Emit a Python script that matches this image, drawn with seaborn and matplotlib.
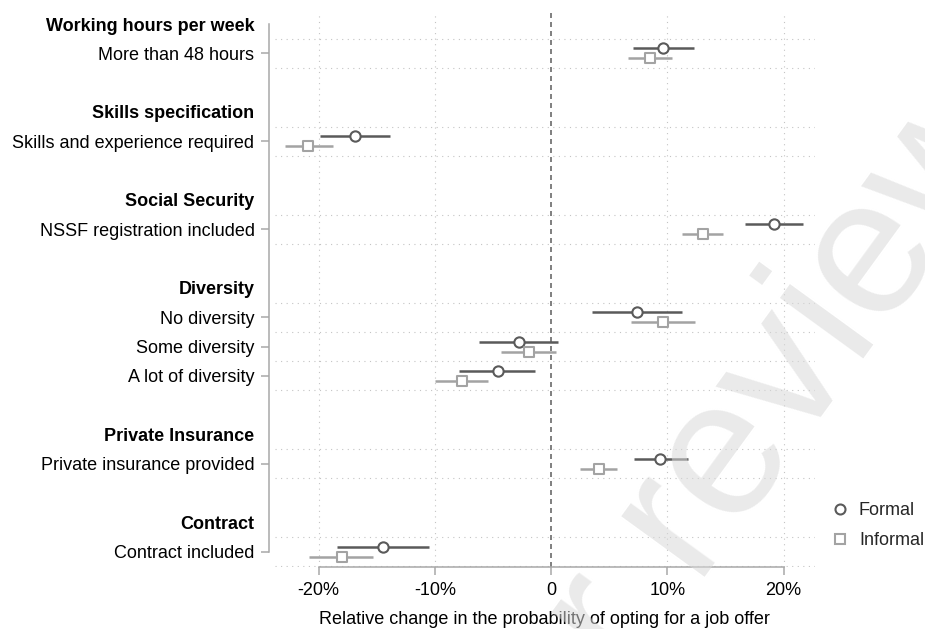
import matplotlib
matplotlib.use("Agg")
import matplotlib.pyplot as plt
import pandas as pd
import seaborn as sns
from matplotlib.lines import Line2D

# ---- data -------------------------------------------------------------
sections = ["Working hours per week", "Skills specification", "Social Security",
            "Diversity", "Private Insurance", "Contract"]
levels = [["More than 48 hours"],
          ["Skills and experience required"],
          ["NSSF registration included"],
          ["No diversity", "Some diversity", "A lot of diversity"],
          ["Private insurance provided"],
          ["Contract included"]]

formal_est = [9.6, -16.9, 19.2, 7.4, -2.8, -4.6, 9.4, -14.5]
formal_lo = [7.0, -19.9, 16.7, 3.5, -6.2, -7.9, 7.1, -18.4]
formal_hi = [12.3, -13.9, 21.7, 11.3, 0.6, -1.4, 11.8, -10.5]

informal_est = [8.5, -20.9, 13.1, 9.6, -1.9, -7.7, 4.1, -18.0]
informal_lo = [6.6, -22.9, 11.3, 6.9, -4.3, -10.0, 2.5, -20.8]
informal_hi = [10.4, -18.8, 14.8, 12.4, 0.4, -5.4, 5.7, -15.3]

series = ["Formal", "Informal"]
xticks = [-20, -10, 0, 10, 20]
xtick_labels = ["-20%", "-10%", "0", "10%", "20%"]
xlabel = "Relative change in the probability of opting for a job offer"

# ---- layout of rows: header, levels, blank spacer ---------------------
header_pos, level_pos, level_names = [], [], []
slot = 0
for sec, grp in zip(sections, levels):
    header_pos.append(slot)
    slot += 1
    for name in grp:
        level_pos.append(slot)
        level_names.append(name)
        slot += 1
    slot += 1

offsets = {"Formal": -0.17, "Informal": 0.17}
colors = {"Formal": "#5a5a5a", "Informal": "#a3a3a3"}
markers = {"Formal": "o", "Informal": "s"}

rows = []
for s, est, lo, hi in [("Formal", formal_est, formal_lo, formal_hi),
                       ("Informal", informal_est, informal_lo, informal_hi)]:
    for name, p, e, l, h in zip(level_names, level_pos, est, lo, hi):
        rows.append({"level": name, "sector": s, "est": e, "lo": l, "hi": h,
                     "y": p + offsets[s]})
df = pd.DataFrame(rows)

# ---- style ------------------------------------------------------------
sns.set_theme(style="white")
plt.rcParams["font.family"] = ["Liberation Sans", "DejaVu Sans"]
plt.rcParams["font.size"] = 13

W, H = 925, 629
fig = plt.figure(figsize=(W / 100, H / 100), dpi=100)
left, right, top, bottom = 274.5, 815, 12, 566.7
ax = fig.add_axes([left / W, 1 - bottom / H, (right - left) / W, (bottom - top) / H])

grid_c = "#c4c4c4"
axis_c = "#a8a8a8"

# horizontal dotted separators around each level row
bounds = sorted({p + d for p in level_pos for d in (-0.5, 0.5)})
for b in bounds:
    ax.axhline(b, color=grid_c, lw=0.8, ls=(0, (1, 4)), zorder=0)
for v in [-20, -10, 10, 20]:
    ax.axvline(v, color=grid_c, lw=0.8, ls=(0, (1, 4)), zorder=0)
ax.axvline(0, color="#6a6a6a", lw=1.2, ls=(0, (3, 2.4)), zorder=1)

# confidence intervals and point estimates
for s in series:
    sub = df[df["sector"] == s]
    ax.hlines(sub["y"], sub["lo"], sub["hi"], color=colors[s], lw=1.8, zorder=2)
    sns.scatterplot(data=sub, x="est", y="y", marker=markers[s], s=55,
                    color=colors[s], linewidth=1.5, ax=ax, zorder=3, legend=False)
    coll = ax.collections[-1]
    coll.set_facecolor("white")
    coll.set_edgecolor(colors[s])
    coll.set_linewidth(1.5)

ax.set_xlim(-23.8, 22.7)
ax.set_ylim(18.51, -0.41)

# spines first: repositioning a spine rebuilds the axis ticks
for side in ["top", "right"]:
    ax.spines[side].set_visible(False)
ax.spines["left"].set_position(("outward", 4.3))
ax.spines["left"].set_bounds(0, 18)
ax.spines["bottom"].set_bounds(-20, 20)
for side in ["left", "bottom"]:
    ax.spines[side].set_color(axis_c)
    ax.spines[side].set_linewidth(1.1)

ax.set_xticks(xticks)
ax.set_xticklabels(xtick_labels)
ax.set_xlabel(xlabel, fontsize=13, labelpad=9, color="black")
ax.set_ylabel("")

# y axis: bold section headers (no tick) and level labels
ypos = header_pos + level_pos
ylabels = sections + level_names
order = sorted(range(len(ypos)), key=lambda i: ypos[i])
ax.set_yticks([ypos[i] for i in order])
ax.set_yticklabels([ylabels[i] for i in order])

ax.tick_params(axis="both", which="both", length=5.8, width=1.1, color=axis_c,
               labelsize=13, labelcolor="black", direction="out")
ax.tick_params(axis="y", pad=4.3, left=True)
ax.tick_params(axis="x", pad=5, bottom=True)

for i, tick in enumerate(ax.yaxis.get_major_ticks()):
    if ypos[order[i]] in header_pos:
        tick.tick1line.set_visible(False)
        tick.label1.set_fontweight("bold")

# legend outside the plot on the right
handles = [Line2D([], [], ls="none", marker=markers[s], mfc="white", mec=colors[s],
                  ms=7.2, mew=1.5) for s in series]
fig.legend(handles, series, loc="upper left", bbox_to_anchor=(831 / W, 1 - 502 / H),
           frameon=False, fontsize=13, handlelength=1.0, handletextpad=0.55,
           labelspacing=0.72, borderpad=0, borderaxespad=0)

# diagonal watermark
fig.text(494 / W, 1 - 867 / H, "For review", fontsize=140, rotation=54,
         rotation_mode="anchor", ha="left", va="baseline", color="#d9d9d9",
         alpha=0.55, zorder=10)

fig.savefig("out.png", dpi=100)
